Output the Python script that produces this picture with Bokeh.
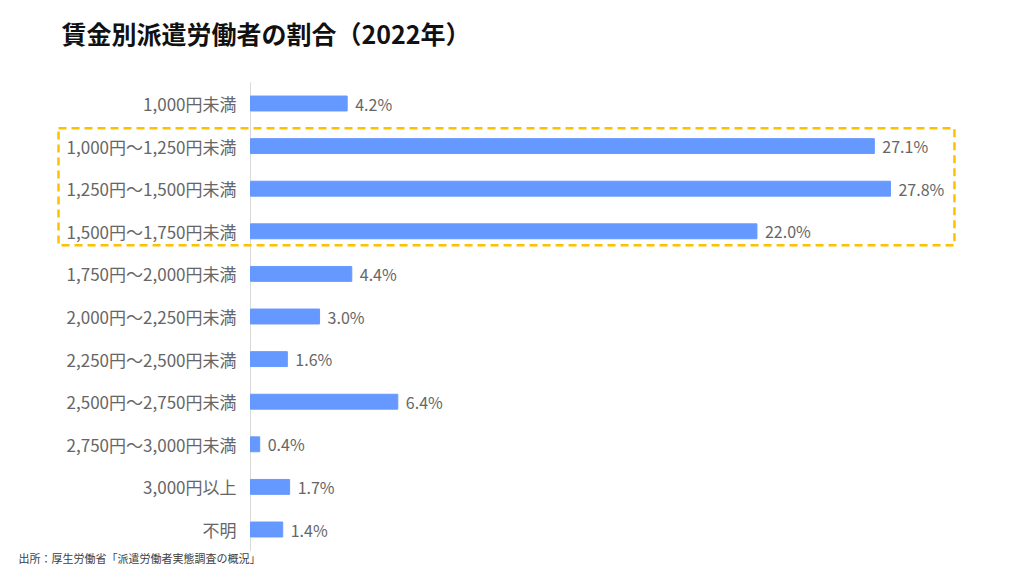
from bokeh.plotting import figure
from bokeh.models import Range1d, ColumnDataSource, BoxAnnotation, Label
from bokeh.core.properties import value
from bokeh.embed import file_html
from bokeh.resources import INLINE

categories = ["1,000円未満", "1,000円〜1,250円未満", "1,250円〜1,500円未満", "1,500円〜1,750円未満",
              "1,750円〜2,000円未満", "2,000円〜2,250円未満", "2,250円〜2,500円未満", "2,500円〜2,750円未満",
              "2,750円〜3,000円未満", "3,000円以上", "不明"]
shares = [4.2, 27.1, 27.8, 22.0, 4.4, 3.0, 1.6, 6.4, 0.4, 1.7, 1.4]
highlighted = ["1,000円〜1,250円未満", "1,250円〜1,500円未満", "1,500円〜1,750円未満"]
title_text = "賃金別派遣労働者の割合（2022年）"
source_text = "出所：厚生労働省「派遣労働者実態調査の概況」"

FONT = "Noto Sans CJK JP"
GRAY = "#666666"

n = len(categories)
pos = [n - 1 - i for i in range(n)]  # first category at top
src = ColumnDataSource(dict(cat=categories, val=shares, pos=pos, zero=[0] * n,
                            lab=[f"{v:.1f}%" for v in shares]))

W, H = 1016, 568
PX_X = 23.02   # px per percentage point
PX_Y = 42.6    # px per row
AXIS_X = 250   # px of value 0
ROW0_Y = 103   # px of first row centre

p = figure(width=W, height=H, output_backend="svg", toolbar_location=None,
           x_axis_type=None, y_axis_type=None,
           x_range=Range1d(-AXIS_X / PX_X, (W - AXIS_X) / PX_X),
           y_range=Range1d((n - 1) - (H - ROW0_Y) / PX_Y, (n - 1) + ROW0_Y / PX_Y),
           min_border_left=0, min_border_right=0, min_border_top=0, min_border_bottom=0)
p.outline_line_color = None
p.grid.visible = False

# category axis line
p.segment(x0=[0], x1=[0], y0=[-0.5], y1=[n - 0.5], line_color="#D9D9D9", line_width=1)

p.hbar(y="pos", right="val", left=0, height=0.35, source=src, color="#6699FF")
p.text(x="val", y="pos", text="lab", source=src, x_offset=8, text_baseline="middle",
       text_font=value(FONT), text_font_size="16px", text_color=GRAY)
# category labels
p.text(x="zero", y="pos", text="cat", source=src, x_offset=-14, text_align="right",
       text_baseline="middle", text_font=value(FONT), text_font_size="17px", text_color=GRAY)

# highlight box around selected categories
hpos = [pos[categories.index(c)] for c in highlighted]
box = BoxAnnotation(left=-8.34, right=30.58, top=max(hpos) + 0.42, bottom=min(hpos) - 0.33,
                    fill_color=None, fill_alpha=0, line_color="#FFC000", line_alpha=1.0,
                    line_width=2.5, line_dash="8 5")
p.add_layout(box)

p.add_layout(Label(x=61, y=H - 32, x_units="screen", y_units="screen",
                   text=title_text, text_font=FONT, text_font_style="bold", text_font_size="25px",
                   text_color="#111111", text_baseline="middle"))
p.add_layout(Label(x=18, y=H - 557, x_units="screen", y_units="screen",
                   text=source_text, text_font=FONT, text_font_size="11px", text_color="#404040",
                   text_baseline="middle"))

open("out.html", "w").write(file_html(p, INLINE))
